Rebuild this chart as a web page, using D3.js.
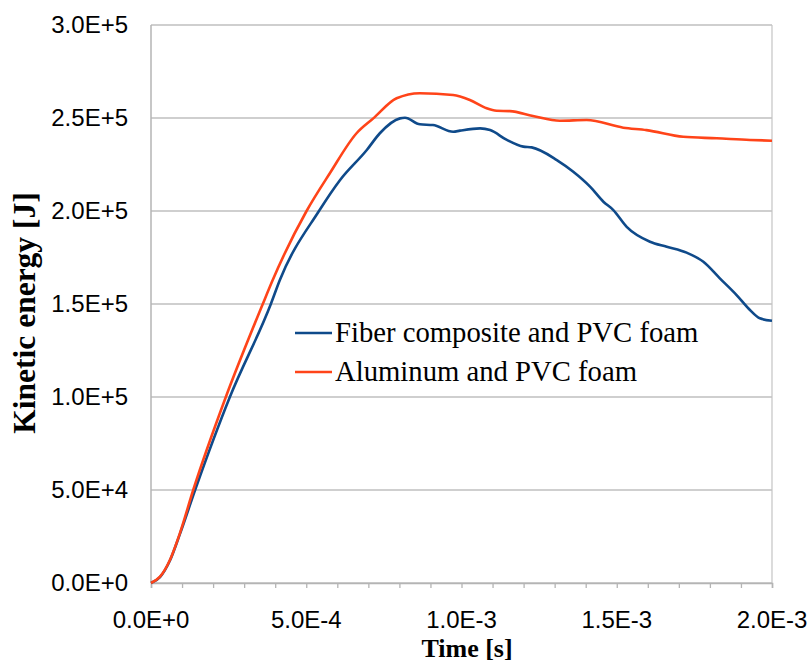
<!DOCTYPE html>
<html>
<head>
    <meta charset="utf-8">
    <title>Kinetic energy</title>
    <script type="text/javascript" src="https://cdn.jsdelivr.net/npm/d3@7"></script>
    <style>
        body { margin: 0; background: #fff; }
        .grid line { stroke: #bfbfbf; stroke-width: 1.3; }
        .tick-label { font-family: "Liberation Sans", Arial, sans-serif; font-size: 24px; fill: #000; }
        .title { font-family: "Liberation Serif", "Times New Roman", serif; font-weight: bold; fill: #000; }
        .legend text { font-family: "Liberation Serif", "Times New Roman", serif; font-size: 28.7px; fill: #000; }
    </style>
</head>
<body>
<script type="text/javascript">

    // time [s] and kinetic energy [J]
    var fiberTime = [0, 0.29e-4, 0.61e-4, 0.93e-4, 1.42e-4, 2.54e-4, 3.86e-4, 4.15e-4, 5.41e-4, 6.09e-4,
        6.95e-4, 7.37e-4, 8.02e-4, 8.18e-4, 8.66e-4, 9.08e-4, 9.73e-4, 9.95e-4, 10.6e-4, 10.92e-4,
        11.46e-4, 11.99e-4, 12.26e-4, 13.07e-4, 13.6e-4, 14.14e-4, 14.57e-4, 14.89e-4, 15.32e-4, 16.07e-4,
        16.61e-4, 17.25e-4, 17.79e-4, 18.32e-4, 18.86e-4, 19.29e-4, 19.61e-4, 20e-4];
    var fiberEnergy = [0, 3200, 12100, 26300, 50000, 100000, 150000, 162900, 200000, 216700,
        232800, 241800, 249800, 250100, 246600, 246200, 242600, 243200, 244400, 243500,
        238200, 234600, 234200, 227400, 221100, 213100, 205000, 200500, 191500, 183500,
        180800, 177600, 172700, 163800, 154800, 146800, 142300, 141000];

    var aluTime = [0, 0.29e-4, 0.61e-4, 0.93e-4, 1.36e-4, 2.41e-4, 3.6e-4, 3.92e-4, 5.01e-4, 5.76e-4,
        6.62e-4, 7.16e-4, 7.91e-4, 8.66e-4, 9.73e-4, 10.27e-4, 10.81e-4, 11.13e-4, 11.56e-4, 12.3e-4,
        13.17e-4, 14.03e-4, 15.21e-4, 15.96e-4, 17.14e-4, 18.22e-4, 19.29e-4, 20e-4];
    var aluEnergy = [0, 3400, 12400, 26700, 50000, 100000, 150000, 162900, 200000, 220300,
        241800, 249800, 260600, 263300, 262400, 259700, 255200, 253900, 253700, 251100,
        248500, 248900, 244800, 243500, 239900, 239100, 238200, 237800];

    var seriesNames = ["Fiber composite and PVC foam", "Aluminum and PVC foam"];
    var seriesColors = ["#0f4a8a", "#ff4419"];

    var xTicks = [0, 5e-4, 1e-3, 1.5e-3, 2e-3];
    var xTickLabels = ["0.0E+0", "5.0E-4", "1.0E-3", "1.5E-3", "2.0E-3"];
    var xMinorTicks = d3.range(0, 21).map(function(i){ return i * 1e-4; });
    var yTicks = [0, 5e4, 1e5, 1.5e5, 2e5, 2.5e5, 3e5];
    var yTickLabels = ["0.0E+0", "5.0E+4", "1.0E+5", "1.5E+5", "2.0E+5", "2.5E+5", "3.0E+5"];

    var width = 811, height = 663,
        plotLeft = 151, plotRight = 772, plotTop = 25, plotBottom = 583;

    var x = d3.scaleLinear().domain([0, 2e-3]).range([plotLeft, plotRight]),
        y = d3.scaleLinear().domain([0, 3e5]).range([plotBottom, plotTop]);

    var svg = d3.select('body').append('svg')
        .attr('width', width)
        .attr('height', height);

    // horizontal grid
    svg.append('g').classed('grid', true)
        .selectAll('line').data(yTicks).enter().append('line')
        .attr('x1', plotLeft).attr('x2', plotRight)
        .attr('y1', function(d){ return y(d); })
        .attr('y2', function(d){ return y(d); });

    // plot frame left/right
    svg.append('line').attr('x1', plotLeft).attr('x2', plotLeft).attr('y1', plotTop).attr('y2', plotBottom)
        .attr('stroke', '#b4b4b4').attr('stroke-width', 1.5);
    svg.append('line').attr('x1', plotRight).attr('x2', plotRight).attr('y1', plotTop).attr('y2', plotBottom)
        .attr('stroke', '#c4c4c4').attr('stroke-width', 1.2);

    // x axis: minor ticks every 1E-4, labels every 5E-4
    var axisX = d3.axisBottom(x).tickValues(xMinorTicks).tickSize(5).tickFormat('');
    var gx = svg.append('g')
        .attr('transform', 'translate(0,' + plotBottom + ')')
        .call(axisX);
    gx.select('.domain').attr('stroke', '#b4b4b4').attr('stroke-width', 1.5);
    gx.selectAll('.tick line').attr('stroke', '#b4b4b4').attr('stroke-width', 1.3);

    svg.selectAll('text.xlab').data(xTicks).enter().append('text')
        .attr('class', 'tick-label xlab')
        .attr('x', function(d){ return x(d); })
        .attr('y', plotBottom + 45)
        .attr('text-anchor', 'middle')
        .text(function(d, i){ return xTickLabels[i]; });

    svg.selectAll('text.ylab').data(yTicks).enter().append('text')
        .attr('class', 'tick-label ylab')
        .attr('x', plotLeft - 23)
        .attr('y', function(d){ return y(d); })
        .attr('dy', '0.35em')
        .attr('text-anchor', 'end')
        .text(function(d, i){ return yTickLabels[i]; });

    // axis titles
    svg.append('text').attr('class', 'title')
        .attr('x', 467).attr('y', 657)
        .attr('text-anchor', 'middle')
        .style('font-size', '26px')
        .text('Time [s]');

    svg.append('text').attr('class', 'title')
        .attr('transform', 'translate(35,313) rotate(-90)')
        .attr('text-anchor', 'middle')
        .style('font-size', '31.5px')
        .text('Kinetic energy [J]');

    // curves
    var line = d3.line()
        .curve(d3.curveMonotoneX)
        .x(function(d){ return x(d[0]); })
        .y(function(d){ return y(d[1]); });

    var series = [
        d3.zip(fiberTime, fiberEnergy),
        d3.zip(aluTime, aluEnergy)
    ];

    svg.selectAll('path.curve').data(series).enter().append('path')
        .attr('class', 'curve')
        .attr('fill', 'none')
        .attr('stroke', function(d, i){ return seriesColors[i]; })
        .attr('stroke-width', 2.6)
        .attr('stroke-linejoin', 'round')
        .attr('d', function(d){ return line(d); });

    // legend
    var legend = svg.append('g').classed('legend', true);
    var item = legend.selectAll('g').data(seriesNames).enter().append('g')
        .attr('transform', function(d, i){ return 'translate(295,' + (333 + i * 39) + ')'; });
    item.append('line')
        .attr('x1', 0).attr('x2', 37).attr('y1', 0).attr('y2', 0)
        .attr('stroke', function(d, i){ return seriesColors[i]; })
        .attr('stroke-width', 2.6);
    item.append('text')
        .attr('x', 40).attr('y', 0).attr('dy', '0.33em')
        .text(function(d){ return d; });

</script>
</body>
</html>
